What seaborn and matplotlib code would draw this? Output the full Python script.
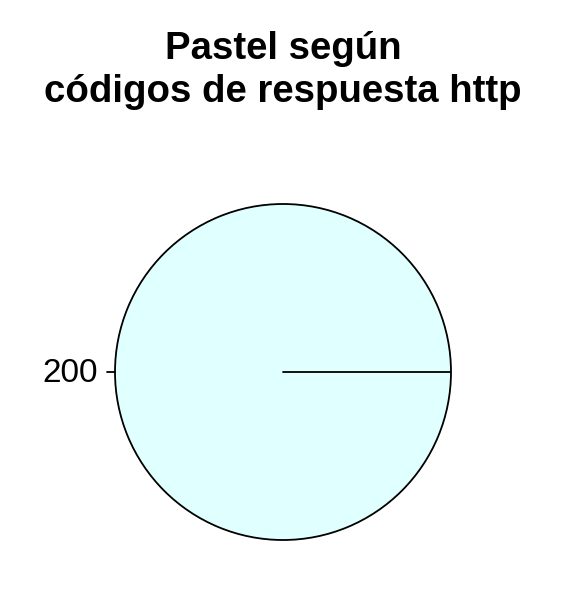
import numpy as np
import matplotlib
matplotlib.use("Agg")
import matplotlib.pyplot as plt
import seaborn as sns

# datos: conteo por código de respuesta http
codigos = ["200"]
conteos = [1]
colores = ["#E0FFFF"]

sns.set_theme(style="white")
plt.rcParams['font.family'] = ['Liberation Sans', 'DejaVu Sans']
plt.rcParams['text.color'] = 'black'

fig = plt.figure(figsize=(5.66, 6.06), dpi=100)
ax = fig.add_axes([115 / 566, 66 / 606, 336 / 566, 336 / 606])

wedges, _ = ax.pie(conteos, colors=colores, startangle=0, counterclock=True,
                   radius=1, wedgeprops=dict(edgecolor="black", linewidth=1.3))

# bordes radiales y etiquetas (como en pie() de R)
frac = np.cumsum([0] + conteos) / np.sum(conteos)
for i, cod in enumerate(codigos):
    a0 = 2 * np.pi * frac[i]
    ax.plot([0, np.cos(a0)], [0, np.sin(a0)], color="black", lw=1.3)
    mid = 2 * np.pi * (frac[i] + frac[i + 1]) / 2
    ax.plot([np.cos(mid), 1.05 * np.cos(mid)], [np.sin(mid), 1.05 * np.sin(mid)],
            color="black", lw=1.3, clip_on=False)
    ha = "left" if np.cos(mid) > 0 else "right"
    ax.text(1.1 * np.cos(mid), 1.1 * np.sin(mid) - 0.008, cod, ha=ha, va="center",
            fontsize=24, color="black", clip_on=False)

ax.set_xlim(-1, 1)
ax.set_ylim(-1, 1)
ax.set_aspect("auto")
ax.axis("off")

fig.text(0.5, 1 - 59 / 606, "Pastel según", ha="center", va="baseline",
         fontsize=27.6, fontweight="bold", color="black")
fig.text(0.5, 1 - 102 / 606, "códigos de respuesta http", ha="center", va="baseline",
         fontsize=27.6, fontweight="bold", color="black")

fig.savefig("out.png", dpi=100, facecolor="white")
